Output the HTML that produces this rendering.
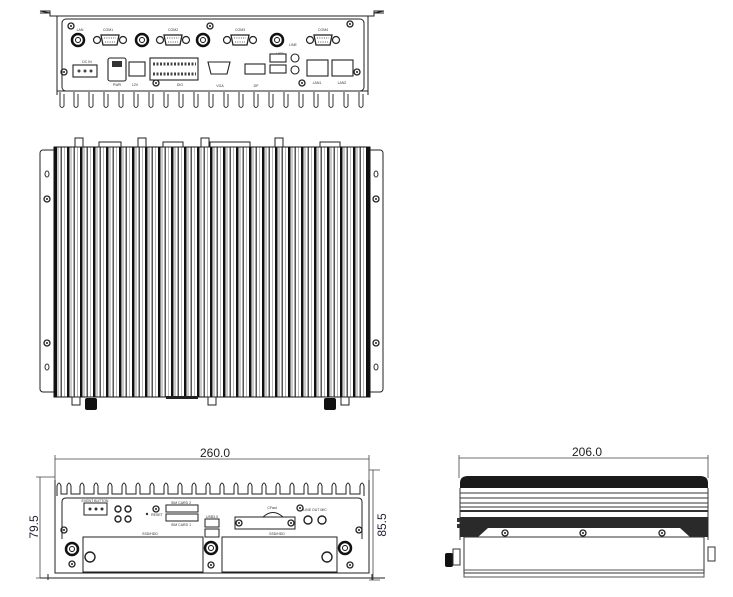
<!DOCTYPE html>
<html><head><meta charset="utf-8"><style>
html,body{margin:0;padding:0;background:#fff;}
svg{display:block;font-family:"Liberation Sans",sans-serif;}
</style></head><body>
<svg width="733" height="597" viewBox="0 0 733 597" xmlns="http://www.w3.org/2000/svg">
<defs>
<pattern id="fins" x="54" y="0" width="13" height="10" patternUnits="userSpaceOnUse">
<rect x="0" y="0" width="13" height="10" fill="#fff"/>
<rect x="0" y="0" width="2.5" height="10" fill="#111"/>
<rect x="3.5" y="0" width="1" height="10" fill="#999"/>
<rect x="6.5" y="0" width="1.5" height="10" fill="#555"/>
<rect x="10" y="0" width="0.8" height="10" fill="#aaa"/>
</pattern>
<g id="db9"><circle cx="-13" cy="0" r="3.5" fill="none" stroke="#222" stroke-width="1.2"/><circle cx="13" cy="0" r="3.5" fill="none" stroke="#222" stroke-width="1.2"/><path d="M-9,-5 H9 L7,5 H-7 Z" fill="#fff" stroke="#222" stroke-width="1.3"/><path d="M-6,-2 H6 M-5,2 H5" stroke="#555" stroke-dasharray="1 1.3"/></g>
<g id="ant"><circle r="6" fill="none" stroke="#111" stroke-width="2.5"/><circle r="2.5" fill="#fff" stroke="#111"/></g>
<g id="scr"><circle r="3" fill="none" stroke="#222" stroke-width="1.3"/><circle r="1" fill="#222"/></g>
</defs>

<!-- ===== TOP: rear panel view ===== -->
<g stroke="#222" fill="none" stroke-width="1">
<path d="M40,13 H50 V16 H57 M50,13 V11 H40 Z"/>
<path d="M384,13 H374 V16 H367 M374,13 V11 H384 Z"/>
<path d="M57,16 H368 M57,16 V95 M368,16 V95"/>
<rect x="62" y="19" width="302" height="72" rx="4"/>
</g>
<path d="M57,91 H368" stroke="#222"/>
<g fill="none" stroke="#333" stroke-width="1">
<path d="M60,92 V106 Q62,109 64,106 V94 M74,92 V106 Q76,109 78,106 V94 M89,92 V106 Q91,109 93,106 V94 M104,92 V106 Q106,109 108,106 V94 M119,92 V106 Q121,109 123,106 V94 M134,92 V106 Q136,109 138,106 V94 M149,92 V106 Q151,109 153,106 V94 M164,92 V106 Q166,109 168,106 V94 M179,92 V106 Q181,109 183,106 V94 M194,92 V106 Q196,109 198,106 V94 M209,92 V106 Q211,109 213,106 V94 M224,92 V106 Q226,109 228,106 V94 M239,92 V106 Q241,109 243,106 V94 M254,92 V106 Q256,109 258,106 V94 M269,92 V106 Q271,109 273,106 V94 M284,92 V106 Q286,109 288,106 V94 M299,92 V106 Q301,109 303,106 V94 M314,92 V106 Q316,109 318,106 V94 M329,92 V106 Q331,109 333,106 V94 M344,92 V106 Q346,109 348,106 V94 M359,92 V106 Q361,109 363,106 V94"/>
</g>
<use href="#db9" x="110" y="40"/><use href="#db9" x="173" y="40"/><use href="#db9" x="240" y="40"/><use href="#db9" x="323" y="40"/>
<use href="#ant" x="78" y="40"/><use href="#ant" x="142" y="40"/><use href="#ant" x="203" y="40"/><use href="#ant" x="277" y="40"/>
<use href="#scr" x="71" y="26"/><use href="#scr" x="210" y="26"/><use href="#scr" x="350" y="24"/>
<use href="#scr" x="64" y="72"/><use href="#scr" x="357" y="72"/><use href="#scr" x="156" y="83"/><use href="#scr" x="302" y="83"/>
<g font-size="3.5" fill="#333" text-anchor="middle">
<text x="80" y="31">LAN</text><text x="108" y="31">COM1</text><text x="173" y="31">COM2</text><text x="240" y="31">COM3</text><text x="323" y="31">COM4</text>
<text x="87" y="63">DC IN</text><text x="117" y="86">PWR</text><text x="135" y="86">12V</text><text x="180" y="86">DIO</text><text x="220" y="87">VGA</text><text x="256" y="87">DP</text><text x="280" y="55">USB</text><text x="293" y="46">LINE</text><text x="317" y="84">LAN1</text><text x="342" y="84">LAN2</text>
</g>
<g stroke="#222" fill="#fff" stroke-width="1.1">
<rect x="73" y="65" width="24" height="12"/>
<rect x="108" y="58" width="18" height="23" rx="2"/>
<rect x="129" y="62" width="16" height="14"/>
<rect x="150" y="58" width="48" height="22"/>
<path d="M208,62 H230 L227,74 H211 Z"/>
<rect x="245" y="64" width="20" height="10"/>
<rect x="270" y="54" width="16" height="8"/><rect x="270" y="65" width="16" height="8"/>
<circle cx="295" cy="58" r="4"/><circle cx="295" cy="70" r="4"/>
<rect x="307" y="60" width="21" height="16"/><rect x="332" y="60" width="21" height="16"/>
</g>
<rect x="112" y="61" width="10" height="6" fill="#333"/>
<g fill="#444"><circle cx="79" cy="71" r="1.5"/><circle cx="85" cy="71" r="1.5"/><circle cx="91" cy="71" r="1.5"/></g>
<path d="M153,64 H196 M153,74 H196" stroke="#444" stroke-width="3" stroke-dasharray="2 1.5"/>

<!-- ===== MIDDLE: top view ===== -->
<rect x="40" y="150" width="343" height="242" rx="3" fill="#fff" stroke="#222"/>
<rect x="54" y="147" width="316" height="250" fill="url(#fins)" stroke="#111"/>
<rect x="54" y="147" width="3" height="250" fill="#111"/><rect x="367" y="147" width="3" height="250" fill="#111"/>
<g fill="none" stroke="#333">
<ellipse cx="47" cy="174" rx="2" ry="3"/><ellipse cx="47" cy="367" rx="2" ry="3"/>
<ellipse cx="376" cy="174" rx="2" ry="3"/><ellipse cx="376" cy="367" rx="2" ry="3"/>
</g>
<use href="#scr" x="47" y="199"/><use href="#scr" x="47" y="343"/><use href="#scr" x="376" y="199"/><use href="#scr" x="376" y="343"/>
<g fill="#fff" stroke="#222">
<rect x="75" y="138" width="8" height="9"/><rect x="138" y="138" width="8" height="9"/><rect x="201" y="138" width="8" height="9"/><rect x="275" y="138" width="8" height="9"/>
<rect x="99" y="142" width="22" height="5"/><rect x="163" y="142" width="20" height="5"/><rect x="210" y="142" width="40" height="5"/><rect x="320" y="142" width="20" height="5"/>
<rect x="72" y="397" width="8" height="8"/><rect x="208" y="397" width="8" height="8"/><rect x="341" y="397" width="8" height="8"/>
</g>
<rect x="85" y="398" width="12" height="12" rx="2" fill="#111"/><rect x="324" y="398" width="12" height="12" rx="2" fill="#111"/>
<rect x="166" y="396" width="32" height="3" fill="#222"/>

<!-- ===== BOTTOM LEFT: front view ===== -->
<g stroke="#444" fill="none" stroke-width="0.8">
<path d="M55,459 H369 M55,455 V480 M369,455 V480"/>
<path d="M40,477 V578 M36,477 H55 M36,578 H55"/>
<path d="M373,470 V580 M369,470 H380 M369,580 H380"/>
</g>
<text x="215" y="457" font-size="12" fill="#222" text-anchor="middle">260.0</text>
<text transform="translate(38,527) rotate(-90)" font-size="12" fill="#223" text-anchor="middle">79.5</text>
<text transform="translate(386,525) rotate(-90)" font-size="12" fill="#223" text-anchor="middle">85.5</text>
<path d="M57,496 V486 Q59,480 61,486 V494 H67 V486 Q69,480 71,486 V494 H80 V486 Q82,480 84,486 V494 H94 V486 Q96,480 98,486 V494 H108 V486 Q110,480 112,486 V494 H122 V486 Q124,480 126,486 V494 H136 V486 Q138,480 140,486 V494 H150 V486 Q152,480 154,486 V494 H164 V486 Q166,480 168,486 V494 H178 V486 Q180,480 182,486 V494 H192 V486 Q194,480 196,486 V494 H206 V486 Q208,480 210,486 V494 H220 V486 Q222,480 224,486 V494 H234 V486 Q236,480 238,486 V494 H248 V486 Q250,480 252,486 V494 H262 V486 Q264,480 266,486 V494 H276 V486 Q278,480 280,486 V494 H290 V486 Q292,480 294,486 V494 H304 V486 Q306,480 308,486 V494 H318 V486 Q320,480 322,486 V494 H332 V486 Q334,480 336,486 V494 H346 V486 Q348,480 350,486 V494 H360 V486 Q362,480 364,486 V496" fill="none" stroke="#222"/>
<g stroke="#222" fill="none">
<path d="M55,480 V573 H369 V480"/>
<path d="M62,539 V502 Q62,498 66,498 H358 Q362,498 362,502 V539"/>
<rect x="83" y="537" width="120" height="35"/><rect x="222" y="537" width="115" height="35"/>
<rect x="84" y="503" width="23" height="12" fill="#fff"/>
<rect x="166" y="505" width="32" height="7"/><rect x="166" y="514" width="32" height="7"/>
<rect x="205" y="519" width="14" height="8"/><rect x="205" y="529" width="14" height="8"/>
<rect x="235" y="517" width="60" height="12"/>
<path d="M263,517 Q273,508 283,517"/>
<path d="M40,578 H385 M48,574 V580 M372,574 V580"/>
</g>
<g fill="#333"><circle cx="90" cy="509" r="1.5"/><circle cx="96" cy="509" r="1.5"/><circle cx="102" cy="509" r="1.5"/><circle cx="147" cy="514" r="1.2"/></g>
<g fill="none" stroke="#222" stroke-width="1.4">
<circle cx="118" cy="509" r="3"/><circle cx="118" cy="519" r="3"/><circle cx="128" cy="509" r="3"/><circle cx="128" cy="519" r="3"/>
<circle cx="308" cy="520" r="4"/><circle cx="322" cy="520" r="4"/>
<circle cx="90" cy="557" r="5"/><circle cx="327" cy="557" r="5"/>
</g>
<use href="#ant" x="72" y="549"/><use href="#ant" x="211" y="548"/><use href="#ant" x="345" y="548"/>
<use href="#scr" x="72" y="564"/><use href="#scr" x="211" y="565"/><use href="#scr" x="350" y="565"/>
<use href="#scr" x="64" y="530"/><use href="#scr" x="156" y="509"/><use href="#scr" x="300" y="508"/><use href="#scr" x="359" y="530"/>
<use href="#scr" x="239" y="523"/><use href="#scr" x="291" y="523"/>
<g font-size="3.5" fill="#333" text-anchor="middle">
<text x="95" y="502">EVENT BUTTON</text><text x="181" y="504">SIM CARD 2</text><text x="181" y="526">SIM CARD 1</text><text x="212" y="518">USB3.0</text><text x="150" y="535">SSD/HDD</text><text x="277" y="535">SSD/HDD</text><text x="272" y="509">CFast</text><text x="315" y="511">LINE OUT MIC</text><text x="157" y="516">RESET</text>
</g>

<!-- ===== BOTTOM RIGHT: side view ===== -->
<g stroke="#444" fill="none" stroke-width="0.8"><path d="M459,458 H708 M459,455 V478 M708,455 V478"/></g>
<text x="587" y="456" font-size="12" fill="#222" text-anchor="middle">206.0</text>
<path d="M460,488 V483 Q460,476 468,476 H700 Q708,476 708,483 V488 Z" fill="#1a1a1a"/>
<g stroke="#333" fill="none">
<path d="M460,488 V540 M708,488 V540"/>
<path d="M460,493 H708 M460,498 H708 M460,503 H708 M460,507 H708"/>
<path d="M460,511 H708" stroke-width="2"/>
</g>
<path d="M460,517 H708 V537 H690 L680,528 H488 L478,537 H460 Z" fill="#2a2a2a"/>
<rect x="464" y="537" width="240" height="36" fill="#fff" stroke="#333"/>
<path d="M464,570 H704 M464,573 V577 H704 V573" stroke="#555" fill="none"/>
<use href="#scr" x="505" y="533"/><use href="#scr" x="583" y="533"/><use href="#scr" x="662" y="533"/>
<rect x="445" y="553" width="8" height="14" rx="2" fill="#111"/>
<rect x="453" y="549" width="7" height="16" fill="#fff" stroke="#333"/>
<rect x="708" y="547" width="7" height="14" fill="#fff" stroke="#333"/>
<rect x="457" y="518" width="3" height="4" fill="#333"/><rect x="457" y="524" width="3" height="4" fill="#333"/>
</svg>
</body></html>
